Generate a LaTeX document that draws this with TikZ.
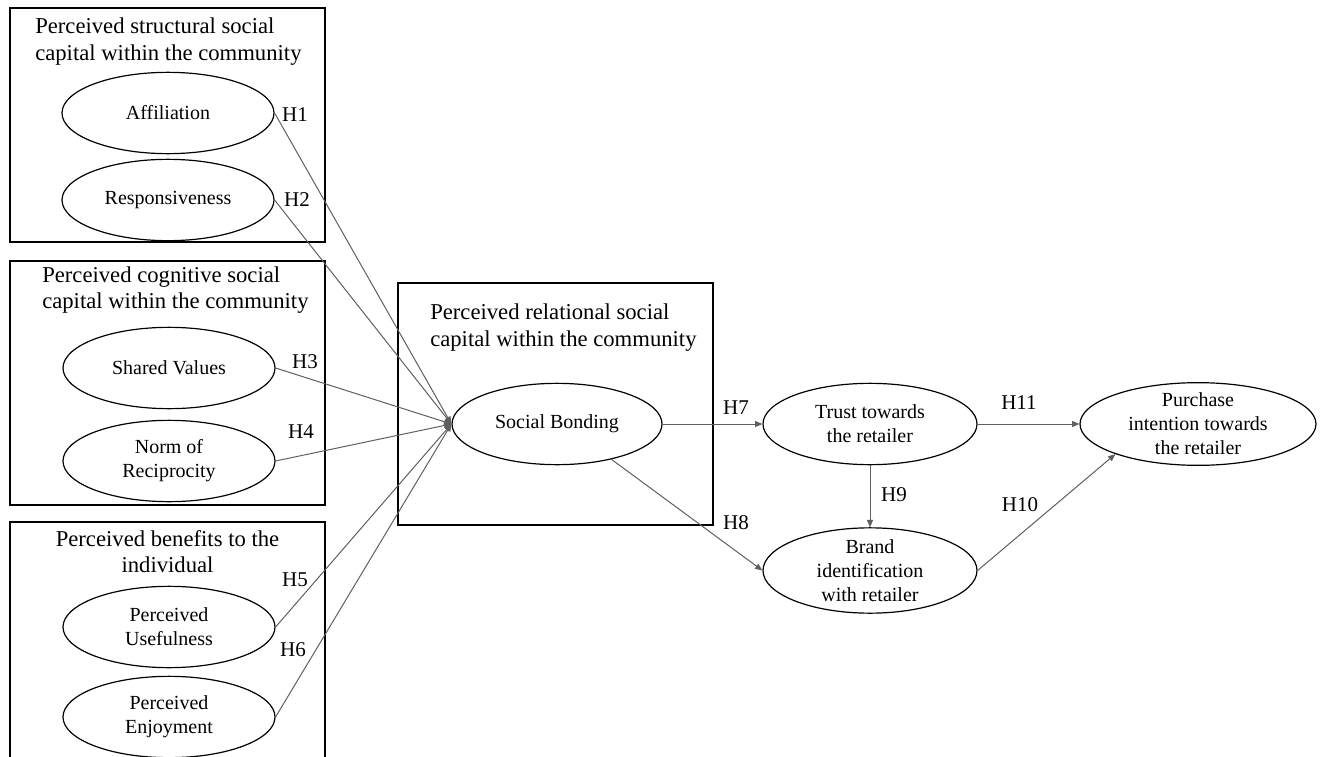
\documentclass[tikz,border=0pt]{standalone}
\usepackage{fontspec}
\setmainfont{Liberation Serif}
\usepackage{tikz}
\usetikzlibrary{arrows.meta,shapes.geometric}
\usepackage{xcolor}
\definecolor{Linegray}{RGB}{95,95,95}
\tikzset{
  construct/.style={draw=black, line width=0.9pt, ellipse, inner sep=0pt, align=center,
    font=\fontsize{15}{18}\selectfont, minimum width=159pt, minimum height=61pt},
  groupbox/.style={draw=black, line width=1.1pt},
  grouptitle/.style={inner sep=0pt, font=\fontsize{17}{20}\selectfont},
  hyp/.style={inner sep=0pt, font=\fontsize{15.75}{19}\selectfont},
  link/.style={draw=Linegray, line width=0.75pt, -{Triangle[length=5.5pt,width=4.5pt]}}
}
\begin{document}
\begin{tikzpicture}[x=0.75pt,y=-0.75pt]
\useasboundingbox (0,0) rectangle (1322,757);
% group boxes
\draw[groupbox] (10,8) rectangle (325,242);
\draw[groupbox] (10,261) rectangle (325,505);
\draw[groupbox] (10,757) -- (10,522) -- (325,522) -- (325,757);
\draw[groupbox] (398,283) rectangle (713,525);
\node[grouptitle, anchor=west, align=left] (structural) at (35,41.5) {Perceived structural social\\capital within the community};
\node[grouptitle, anchor=west, align=left] (cognitive) at (42,290) {Perceived cognitive social\\capital within the community};
\node[grouptitle, align=center] (benefits) at (167.5,551.5) {Perceived benefits to the\\individual};
\node[grouptitle, anchor=west, align=left] (relational) at (430,327.5) {Perceived relational social\\capital within the community};
%
% constructs
\node[construct] (affil) at (168,113) {Affiliation};
\node[construct] (respon) at (168,200) {Responsiveness};
\node[construct] (shared) at (169,368) {Shared Values};
\node[construct] (norm) at (169,461) {Norm of\\Reciprocity};
\node[construct] (useful) at (169,627) {Perceived\\Usefulness};
\node[construct] (enjoy) at (169,717) {Perceived\\Enjoyment};
\node[construct, minimum width=157.5pt] (bond) at (557,424) {Social Bonding};
\node[construct, minimum width=160.5pt] (trust) at (870,424) {Trust towards\\the retailer};
\node[construct, minimum width=160.5pt, minimum height=64pt, inner ysep=-3pt] (brand) at (870,570.5) {Brand\\identification\\with retailer};
\node[construct, minimum width=177pt, minimum height=62pt, inner ysep=-4pt] (purchase) at (1198,424) {Purchase\\intention towards\\the retailer};
%
% hypotheses
\draw[link] (affil.east) -- (bond.west);
\draw[link] (respon.east) -- (bond.west);
\draw[link] (shared.east) -- (bond.west);
\draw[link] (norm.east) -- (bond.west);
\draw[link] (useful.east) -- (bond.west);
\draw[link] (enjoy.east) -- (bond.west);
\draw[link] (bond.east) -- (trust.west);
\draw[link] (bond.-33) -- (brand.west);
\draw[link] (trust.south) -- (brand.north);
\draw[link] (trust.east) -- (purchase.west);
\draw[link] (brand.east) -- (purchase.200);
\node[hyp] (h1) at (295,115) {H1};
\node[hyp] (h2) at (297,200) {H2};
\node[hyp] (h3) at (305,362) {H3};
\node[hyp] (h4) at (301,432) {H4};
\node[hyp] (h5) at (295,580) {H5};
\node[hyp] (h6) at (293,650) {H6};
\node[hyp] (h7) at (736,408) {H7};
\node[hyp] (h8) at (736,523) {H8};
\node[hyp] (h9) at (894,495) {H9};
\node[hyp] (h10) at (1020,505) {H10};
\node[hyp] (h11) at (1019,403) {H11};
\end{tikzpicture}
\end{document}
